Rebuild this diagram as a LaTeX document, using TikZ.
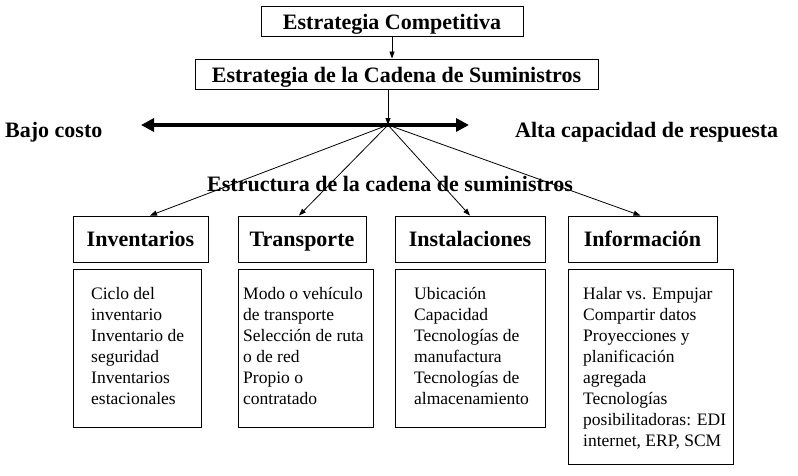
\documentclass[tikz,border=0pt]{standalone}
\usepackage{fontspec}
\setmainfont{Liberation Serif}
\usetikzlibrary{arrows.meta}
\newcommand\hdfont{\fontsize{22}{26}\selectfont\bfseries}
\newcommand\dtfont{\fontsize{17.5}{21}\selectfont}
\begin{document}
\begin{tikzpicture}[x=1pt,y=-1pt,
  box/.style={draw, line width=0.9pt, inner sep=0pt},
  hd/.style={font=\hdfont},
  hbox/.style={box, hd, minimum height=46pt, text height=14pt, text depth=0pt},
  dbox/.style={box, anchor=north west},
  dt/.style={font=\dtfont, align=left, anchor=north west, inner sep=0pt},
  lbl/.style={hd, anchor=base west, inner sep=0pt},
  thinarrow/.style={line width=0.8pt, -{Triangle[length=7pt,width=5pt]}},
  boldarrow/.style={line width=4pt, {Triangle[length=13pt,width=13pt]}-{Triangle[length=13pt,width=13pt]}}]
\useasboundingbox (0,0) rectangle (798,475);

% top boxes
\node[box, hd, minimum width=262pt, minimum height=30pt, text height=17pt, text depth=0pt] (ec) at (392,21) {Estrategia Competitiva};
\node[box, hd, minimum width=403pt, minimum height=30pt, text height=16pt, text depth=0pt] (ecs) at (396.5,74) {Estrategia de la Cadena de Suministros};

% bold axis
\coordinate (bl) at (141,125);
\coordinate (br) at (469,125);
\coordinate (fan) at (388,125);
\draw[boldarrow] (bl) -- (br);
\node[lbl] (bajo) at (5,137) {Bajo costo};
\node[lbl] (alta) at (515,137) {Alta capacidad de respuesta};
\node[lbl] (estr) at (207,191) {Estructura de la cadena de suministros};

% header boxes
\node[hbox, minimum width=135pt] (hinv) at (140.5,239) {Inventarios};
\node[hbox, minimum width=128pt] (htra) at (302,239) {Transporte};
\node[hbox, minimum width=150pt] (hins) at (470,239) {Instalaciones};
\node[hbox, minimum width=149pt] (hinf) at (642.5,239) {Información};

% connectors
\draw[thinarrow] (ec.south) -- (ec.south |- ecs.north);
\draw[thinarrow] (fan |- ecs.south) -- (fan);
\draw[thinarrow] (fan) -- ([xshift=9.5pt]hinv.north);
\draw[thinarrow] (fan) -- ([xshift=-3pt]htra.north);
\draw[thinarrow] (fan) -- (hins.north);
\draw[thinarrow] (fan) -- ([xshift=-2pt]hinf.north);

% detail boxes
\node[dbox, minimum width=128pt, minimum height=158pt] (dinv) at (73,269) {};
\node[dbox, minimum width=135pt, minimum height=158pt] (dtra) at (238,269) {};
\node[dbox, minimum width=150pt, minimum height=158pt] (dins) at (395,269) {};
\node[dbox, minimum width=165pt, minimum height=195pt] (dinf) at (568,269) {};

\node[dt] (tinv) at (91,286) {\rule{0pt}{13pt}Ciclo del\\inventario\\Inventario de\\seguridad\\Inventarios\\estacionales};
\node[dt] (ttra) at (243,286) {\rule{0pt}{13pt}Modo o vehículo\\de transporte\\Selección de ruta\\o de red\\Propio o\\contratado};
\node[dt] (tins) at (414,286) {\rule{0pt}{13pt}Ubicación\\Capacidad\\Tecnologías de\\manufactura\\Tecnologías de\\almacenamiento};
\node[dt] (tinf) at (583,286) {\rule{0pt}{13pt}Halar vs. Empujar\\Compartir datos\\Proyecciones y\\planificación\\agregada\\Tecnologías\\posibilitadoras: EDI\\internet, ERP, SCM};
\end{tikzpicture}
\end{document}
